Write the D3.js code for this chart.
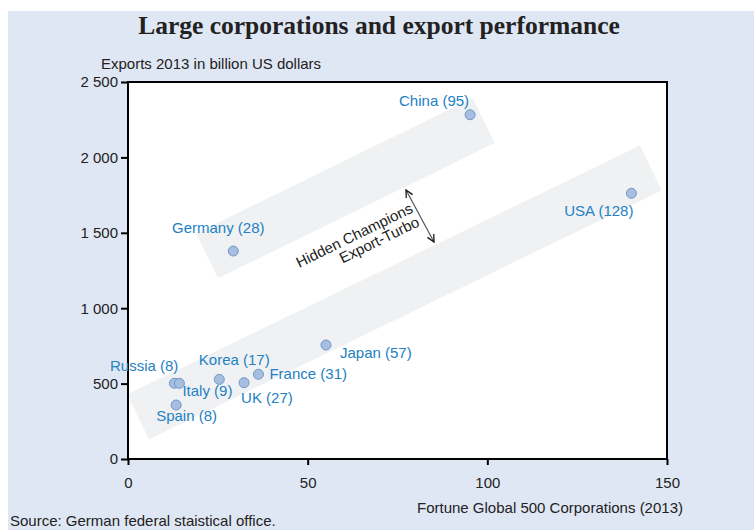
<!DOCTYPE html>
<html>
<head>
<meta charset="utf-8">
<script src="https://cdn.jsdelivr.net/npm/d3@7"></script>
<style>
  body { margin: 0; background: #fff; }
  svg { display: block; font-family: "Liberation Sans", Arial, sans-serif; }
</style>
</head>
<body>
<script>
// data
const countries = ["China", "USA", "Germany", "Japan", "France", "UK", "Korea", "Russia", "Italy", "Spain"];
const corporations = [95, 128, 28, 57, 31, 27, 17, 8, 9, 8];
const xValues = [95.2, 140.1, 29.3, 55.1, 36.3, 32.3, 25.4, 12.9, 14.3, 13.4];
const exportValues = [2283, 1762, 1379, 756, 562, 506, 528, 502, 502, 358];
const yTicks = [0, 500, 1000, 1500, 2000, 2500];
const xTicks = [0, 50, 100, 150];

// the two grey bands, centre line ends in data units [x, y]
const bands = [
    [[22.0, 1347], [99.0, 2245]],
    [[2.8, 279], [145.5, 1930]]
];

const width = 754;
const height = 530;
const plot = {left: 128, top: 82, right: 667, bottom: 459};
const fs = 15;

// label placement relative to each point: dx, dy, anchor
const labelPos = [
    [-1, -9, "end"], [2, 23, "end"], [-15, -18, "middle"], [14, 13, "start"],
    [11, 5, "start"], [-3, 20, "start"], [15, -14, "middle"], [4, -12, "end"],
    [3, 13, "start"], [-20, 16, "start"]
];

const svg = d3.select("body").append("svg")
    .attr("width", width)
    .attr("height", height);

svg.append("rect")
    .attr("x", 8).attr("y", 11)
    .attr("width", width - 8).attr("height", height - 11)
    .attr("fill", "#e0e7f4");

const x = d3.scaleLinear().domain([0, 150]).range([plot.left, plot.right]);
const y = d3.scaleLinear().domain([0, 2500]).range([plot.bottom, plot.top]);

svg.append("rect")
    .attr("x", plot.left).attr("y", plot.top)
    .attr("width", plot.right - plot.left).attr("height", plot.bottom - plot.top)
    .attr("fill", "#fff");

svg.append("clipPath").attr("id", "clip")
    .append("rect")
    .attr("x", plot.left).attr("y", plot.top)
    .attr("width", plot.right - plot.left).attr("height", plot.bottom - plot.top);

// bands as rotated rectangles around their centre lines
const halfW = 25;
svg.append("g").attr("clip-path", "url(#clip)")
    .selectAll("polygon")
    .data(bands)
    .enter()
    .append("polygon")
    .attr("fill", "#f0f1f3")
    .attr("points", (b) => {
        const x1 = x(b[0][0]), y1 = y(b[0][1]), x2 = x(b[1][0]), y2 = y(b[1][1]);
        const len = Math.hypot(x2 - x1, y2 - y1);
        const nx = -(y2 - y1) / len * halfW, ny = (x2 - x1) / len * halfW;
        return [[x1 - nx, y1 - ny], [x2 - nx, y2 - ny], [x2 + nx, y2 + ny], [x1 + nx, y1 + ny]]
            .map((p) => p.join(",")).join(" ");
    });

// arrow between the bands
const defs = svg.append("defs");
defs.append("marker")
    .attr("id", "head")
    .attr("viewBox", "0 0 10 10")
    .attr("refX", 9).attr("refY", 5)
    .attr("markerWidth", 9).attr("markerHeight", 9)
    .attr("orient", "auto-start-reverse")
    .attr("markerUnits", "userSpaceOnUse")
    .append("path")
    .attr("d", "M1,1 L9,5 L1,9")
    .attr("fill", "none")
    .attr("stroke", "#111")
    .attr("stroke-width", 1.4);

svg.append("line")
    .attr("x1", 406).attr("y1", 190)
    .attr("x2", 434).attr("y2", 242)
    .attr("stroke", "#555")
    .attr("stroke-width", 1.2)
    .attr("marker-start", "url(#head)")
    .attr("marker-end", "url(#head)");

const note = svg.append("text")
    .attr("transform", "translate(414,212) rotate(-26)")
    .attr("text-anchor", "end")
    .attr("font-size", fs)
    .attr("fill", "#222");
note.append("tspan").attr("x", 0).attr("y", 0).text("Hidden Champions");
note.append("tspan").attr("x", 0).attr("y", 15).text("Export-Turbo");

// axes
const yAxis = d3.axisLeft(y).tickValues(yTicks).tickSize(7).tickPadding(3)
    .tickFormat((d) => d3.format(",")(d).replace(",", " "));
const xAxis = d3.axisBottom(x).tickValues(xTicks).tickSize(6).tickPadding(12);

const gy = svg.append("g").attr("transform", `translate(${plot.left},0)`).call(yAxis);
const gx = svg.append("g").attr("transform", `translate(0,${plot.bottom})`).call(xAxis);
[gx, gy].forEach((g) => {
    g.select(".domain").remove();
    g.selectAll("line").attr("stroke", "#000").attr("stroke-width", 2);
    g.selectAll("text").attr("font-size", fs).attr("fill", "#222")
        .attr("font-family", "Liberation Sans, Arial, sans-serif");
});

svg.append("rect")
    .attr("x", plot.left).attr("y", plot.top)
    .attr("width", plot.right - plot.left).attr("height", plot.bottom - plot.top)
    .attr("fill", "none")
    .attr("stroke", "#000")
    .attr("stroke-width", 2);

// points and labels
svg.append("g").selectAll("circle")
    .data(countries)
    .enter()
    .append("circle")
    .attr("cx", (d, i) => x(xValues[i]))
    .attr("cy", (d, i) => y(exportValues[i]))
    .attr("r", 5)
    .attr("fill", "#a6bfe0")
    .attr("stroke", "#7096c9")
    .attr("stroke-width", 1);

svg.append("g").selectAll("text")
    .data(countries)
    .enter()
    .append("text")
    .attr("x", (d, i) => x(xValues[i]) + labelPos[i][0])
    .attr("y", (d, i) => y(exportValues[i]) + labelPos[i][1])
    .attr("text-anchor", (d, i) => labelPos[i][2])
    .attr("font-size", fs)
    .attr("fill", "#2381c4")
    .text((d, i) => `${d} (${corporations[i]})`);

// titles
svg.append("text")
    .attr("x", 379).attr("y", 34)
    .attr("text-anchor", "middle")
    .attr("font-family", "Liberation Serif, Times New Roman, serif")
    .attr("font-weight", "bold")
    .attr("font-size", 25.5)
    .attr("fill", "#222")
    .text("Large corporations and export performance");

svg.append("text")
    .attr("x", 101).attr("y", 69)
    .attr("font-size", fs).attr("fill", "#222")
    .text("Exports 2013 in billion US dollars");

svg.append("text")
    .attr("x", 683).attr("y", 513)
    .attr("text-anchor", "end")
    .attr("font-size", fs).attr("fill", "#222")
    .text("Fortune Global 500 Corporations (2013)");

svg.append("text")
    .attr("x", 10).attr("y", 526)
    .attr("font-size", fs).attr("fill", "#222")
    .text("Source: German federal staistical office.");
</script>
</body>
</html>
